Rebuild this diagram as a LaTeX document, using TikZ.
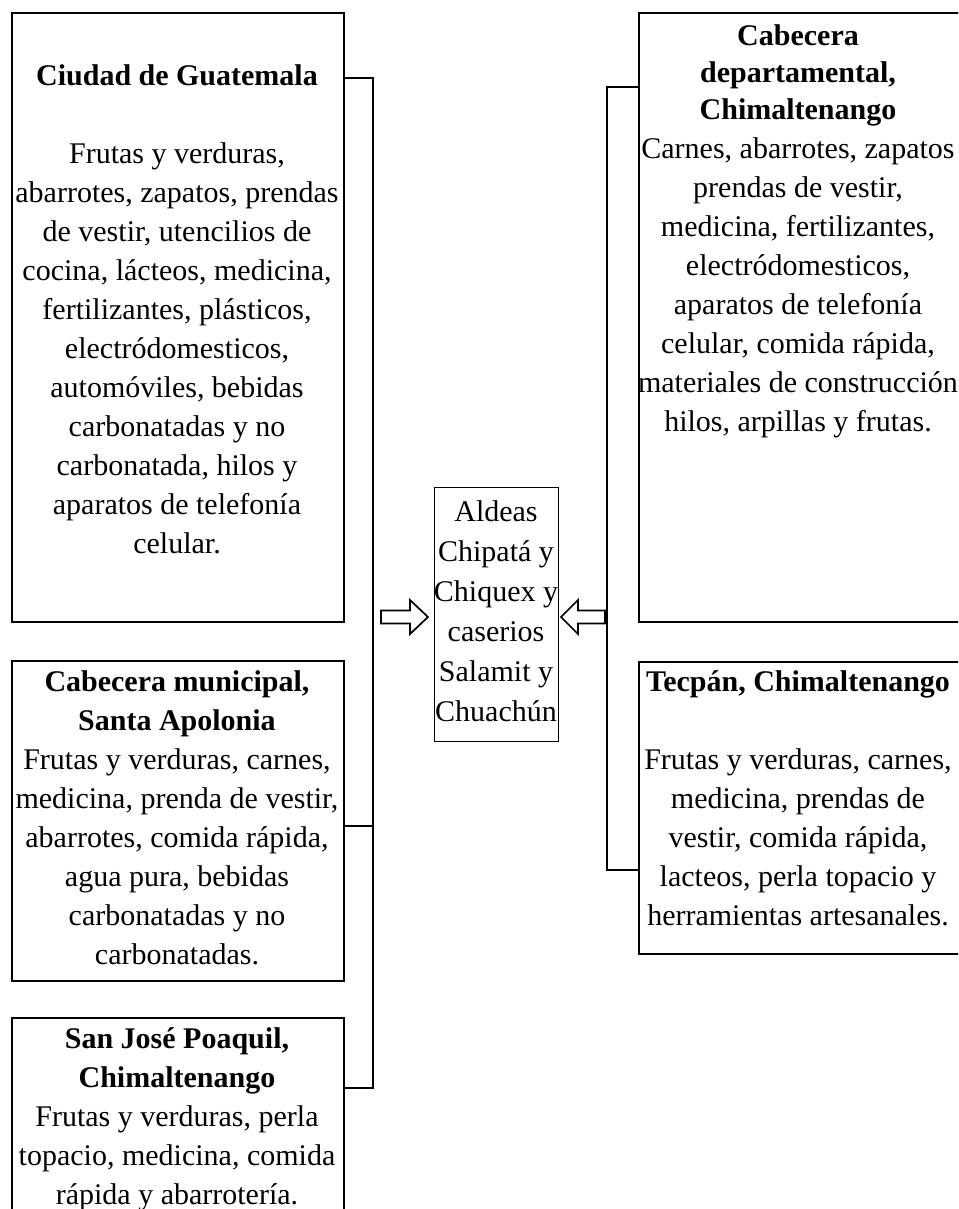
\documentclass[tikz,border=0pt]{standalone}
\usepackage{fontspec}
\setmainfont{Liberation Serif}
\begin{document}
\begin{tikzpicture}[x=1pt,y=-1pt,
  box/.style={draw, line width=2pt, anchor=north west, inner sep=0pt},
  cbox/.style={draw, line width=1.3pt, anchor=north west, inner sep=0pt},
  txt/.style={align=center, inner sep=0pt, anchor=north, font=\fontsize{30}{39}\selectfont},
  ctxt/.style={align=center, inner sep=0pt, anchor=north, font=\fontsize{30}{40}\selectfont},
  link/.style={line width=2pt},
  blockarrow/.style={draw, line width=1.7pt, fill=white, line join=miter}]
\useasboundingbox (0,0) rectangle (958,1209);
\clip (0,0) rectangle (958,1209);
% left boxes
\node[box, minimum width=332pt, minimum height=609pt] (L1) at (11,12) {};
\node[box, minimum width=332pt, minimum height=320pt] (L2) at (11,660) {};
\node[box, minimum width=332pt, minimum height=230pt] (L3) at (11,1017) {};
% right boxes
\node[box, minimum width=330pt, minimum height=609pt] (R1) at (638,12) {};
\node[box, minimum width=330pt, minimum height=292pt] (R2) at (638,661) {};
% center box
\node[cbox, minimum width=124pt, minimum height=254pt] (C) at (434,487) {};
% texts
\node[txt] (T1) at (177,64) {\textbf{Ciudad de Guatemala}\\[39pt]
Frutas y verduras,\\ abarrotes, zapatos, prendas\\ de vestir, utencilios de\\
cocina, lácteos, medicina,\\ fertilizantes, plásticos,\\ electródomesticos,\\
automóviles, bebidas\\ carbonatadas y no\\ carbonatada, hilos y\\
aparatos de telefonía\\ celular.};
\node[txt] (T2) at (177,670) {\textbf{Cabecera municipal,}\\ \textbf{Santa Apolonia}\\
Frutas y verduras, carnes,\\ medicina, prenda de vestir,\\ abarrotes, comida rápida,\\
agua pura, bebidas\\ carbonatadas y no\\ carbonatadas.};
\node[txt] (T3) at (177,1027) {\textbf{San José Poaquil,}\\ \textbf{Chimaltenango}\\
Frutas y verduras, perla\\ topacio, medicina, comida\\ rápida y abarrotería.};
\node[txt] (T4) at (798,24) {\textbf{Cabecera}\\[-2pt] \textbf{departamental,}\\[-2pt] \textbf{Chimaltenango}\\
Carnes, abarrotes, zapatos\\ prendas de vestir,\\ medicina, fertilizantes,\\
electródomesticos,\\ aparatos de telefonía\\ celular, comida rápida,\\
materiales de construcción\\ hilos, arpillas y frutas.};
\node[txt] (T5) at (798,670) {\textbf{Tecpán, Chimaltenango}\\[39pt]
Frutas y verduras, carnes,\\ medicina, prendas de\\ vestir, comida rápida,\\
lacteos, perla topacio y\\ herramientas artesanales.};
\node[ctxt] (TC) at (496,500) {Aldeas\\ Chipatá y\\ Chiquex y\\ caserios\\ Salamit y\\ Chuachún};
% brackets
\draw[link] (L1.east |- 0,78) -- (373,78) |- (L3.east |- 0,1088);
\draw[link] (L2.east |- 0,826) -- (373,826);
\draw[link] (R1.west |- 0,87) -- (607,87) |- (R2.west |- 0,870);
% block arrows
\draw[blockarrow] (381,610.5) -- (410,610.5) -- (410,600) -- (428,617) -- (410,634) -- (410,623.5) -- (381,623.5) -- cycle;
\draw[blockarrow] (605,610.5) -- (578,610.5) -- (578,600) -- (561,617) -- (578,634) -- (578,623.5) -- (605,623.5) -- cycle;
\end{tikzpicture}
\end{document}
